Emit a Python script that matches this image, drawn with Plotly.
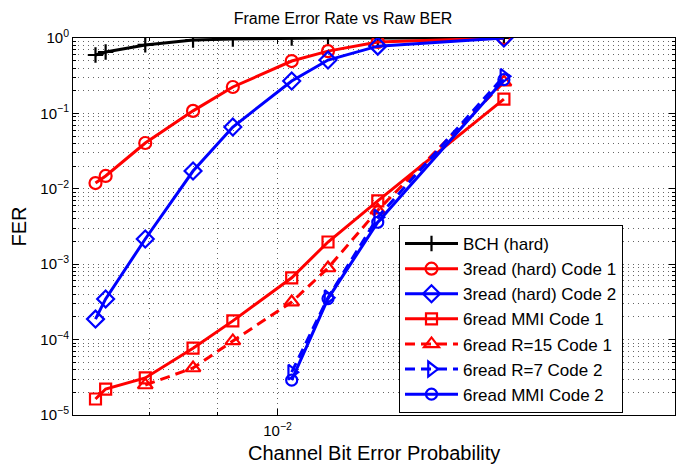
import plotly.graph_objects as go

# ---- data ----
ber = [0.00728, 0.00741, 0.00794, 0.00863, 0.00925, 0.01025, 0.01092, 0.01191, 0.01484]
bch_hard = [0.595, 0.652, 0.81, 0.94, 0.97, 1.0, 1.0, 1.0, 1.0]
read3_code1 = [0.0119, 0.0148, 0.0405, 0.108, 0.224, 0.495, 0.67, 0.885, 1.0]
read3_code2 = [1.87e-4, 3.46e-4, 2.16e-3, 0.0172, 0.066, 0.269, 0.51, 0.78, 1.0]
read6_mmi_code1 = [1.63e-5, 2.21e-5, 3.1e-5, 7.7e-5, 1.77e-4, 6.6e-4, 1.97e-3, 6.9e-3, 0.155]
ber_r15 = ber[2:]
read6_r15_code1 = [2.5e-5, 4.2e-5, 9.6e-5, 3.15e-4, 8.9e-4, 5.2e-3, 0.26]
ber_code2 = ber[5:]
read6_r7_code2 = [3.7e-5, 3.6e-4, 4.2e-3, 0.31]
read6_mmi_code2 = [2.9e-5, 3.5e-4, 3.6e-3, 0.28]

y_tickvals = [1, 0.1, 0.01, 1e-3, 1e-4, 1e-5]
y_ticktext = ["10<sup>0</sup>", "10<sup>−1</sup>", "10<sup>−2</sup>", "10<sup>−3</sup>", "10<sup>−4</sup>", "10<sup>−5</sup>"]
x_tickvals = [0.01]
x_ticktext = ["10<sup>−2</sup>"]

FONT = "Liberation Sans, Arial, sans-serif"
RED = "#ff0000"
BLUE = "#0000ff"

fig = go.Figure()

def add(x, y, name, color, symbol, dash="solid", size=11):
    fig.add_trace(go.Scatter(
        x=x, y=y, name=name, mode="lines+markers",
        line=dict(color=color, width=3, dash=dash),
        marker=dict(symbol=symbol, size=size, color=color,
                    line=dict(color=color, width=2.2)),
    ))

DASH = "10px,6px"
add(ber, bch_hard, "BCH (hard)", "black", "cross-thin", size=11)
add(ber, read3_code1, "3read (hard) Code 1", RED, "circle-open", size=12)
add(ber, read3_code2, "3read (hard) Code 2", BLUE, "diamond-open", size=13)
add(ber, read6_mmi_code1, "6read MMI Code 1", RED, "square-open", size=11)
add(ber_r15, read6_r15_code1, "6read R=15 Code 1", RED, "triangle-up-open", dash=DASH, size=13)
add(ber_code2, read6_r7_code2, "6read R=7 Code 2", BLUE, "triangle-right-open", dash=DASH, size=13)
add(ber_code2, read6_mmi_code2, "6read MMI Code 2", BLUE, "circle-open", size=11)

y_minor = [m * 10.0 ** e for e in range(-5, 0) for m in range(2, 10)]
x_minor = [0.008, 0.009, 0.02]

grid = dict(gridcolor="rgba(0,0,0,0.6)", griddash="1px,4px", gridwidth=1)

fig.update_xaxes(
    type="log", range=[-2.1549, -1.699], automargin=False,
    tickvals=x_tickvals, ticktext=x_ticktext,
    ticks="inside", ticklen=6, tickcolor="black", ticklabelstandoff=2,
    showline=True, linecolor="black", linewidth=1, mirror="ticks",
    showgrid=True, **grid,
    minor=dict(tickvals=x_minor, ticks="inside", ticklen=3, tickcolor="black",
               showgrid=True, **grid),
    tickfont=dict(family=FONT, size=15, color="black"),
    zeroline=False,
)
fig.update_yaxes(
    type="log", range=[-5, 0], automargin=False,
    tickvals=y_tickvals, ticktext=y_ticktext,
    ticks="inside", ticklen=6, tickcolor="black",
    showline=True, linecolor="black", linewidth=1, mirror="ticks",
    showgrid=True, **grid,
    minor=dict(tickvals=y_minor, ticks="inside", ticklen=3, tickcolor="black",
               showgrid=True, **grid),
    tickfont=dict(family=FONT, size=15, color="black"),
    zeroline=False,
)

fig.update_layout(
    width=686, height=464,
    margin=dict(l=73, r=11, t=38, b=49),
    paper_bgcolor="white", plot_bgcolor="white",
    title=dict(text="Frame Error Rate vs Raw BER", x=0.5, xanchor="center", xref="container",
               y=1 - 18 / 464, yanchor="middle", yref="container",
               font=dict(family=FONT, size=16, color="black")),
    font=dict(family=FONT, color="black"),
    legend=dict(x=326 / 602, y=2 / 377, xanchor="left", yanchor="bottom",
                bgcolor="white", bordercolor="black", borderwidth=1,
                font=dict(family=FONT, size=17, color="black"),
                itemwidth=53),
    showlegend=True,
    annotations=[
        dict(text="Channel Bit Error Probability", xref="paper", yref="paper",
             x=0.5, y=-38 / 377, xanchor="center", yanchor="middle", showarrow=False,
             font=dict(family=FONT, size=20, color="black")),
        dict(text="FER", xref="paper", yref="paper", textangle=-90,
             x=-55 / 602, y=0.5, xanchor="center", yanchor="middle", showarrow=False,
             font=dict(family=FONT, size=20, color="black")),
    ],
)

fig.write_html("out.html", config={"displayModeBar": False},
               post_script="document.body.style.margin='0';document.body.style.overflow='hidden';")
